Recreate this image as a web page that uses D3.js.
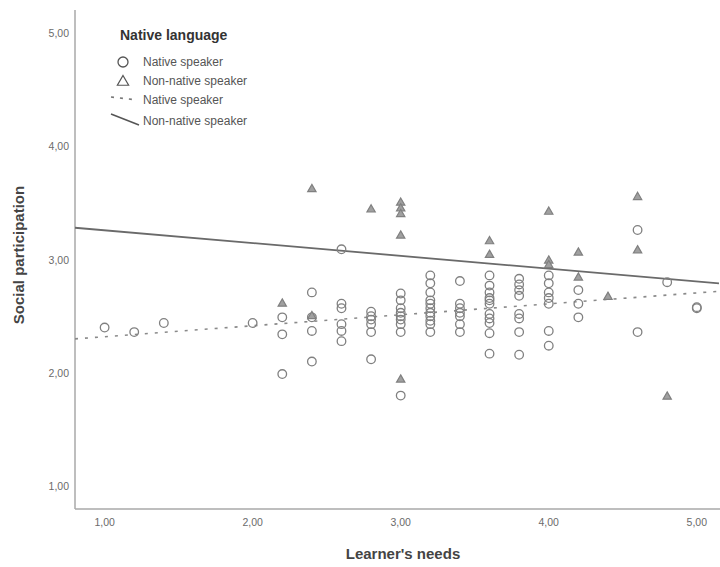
<!DOCTYPE html>
<html><head><meta charset="utf-8">
<script src="https://cdn.jsdelivr.net/npm/d3@7"></script>
<style>body{margin:0;background:#fff}svg{display:block}</style>
</head><body>
<svg id="c" width="720" height="567"></svg>
<script>
// ---- data ----
const xTicks = [1, 2, 3, 4, 5];
const yTicks = [1, 2, 3, 4, 5];
// Native speakers: [learner's needs, social participation]
const nativeX = [1.0,1.2,1.4,2.0,
  2.2,2.2,2.2,
  2.4,2.4,2.4,2.4,
  2.6,2.6,2.6,2.6,2.6,2.6,
  2.8,2.8,2.8,2.8,2.8,2.8,
  3.0,3.0,3.0,3.0,3.0,3.0,3.0,3.0,3.0,
  3.2,3.2,3.2,3.2,3.2,3.2,3.2,3.2,3.2,3.2,3.2,
  3.4,3.4,3.4,3.4,3.4,3.4,3.4,
  3.6,3.6,3.6,3.6,3.6,3.6,3.6,3.6,3.6,3.6,3.6,
  3.8,3.8,3.8,3.8,3.8,3.8,3.8,3.8,
  4.0,4.0,4.0,4.0,4.0,4.0,4.0,
  4.2,4.2,4.2,
  4.6,4.6,
  4.8,
  5.0,5.0];
const nativeY = [2.40,2.36,2.44,2.44,
  2.49,2.34,1.99,
  2.71,2.49,2.37,2.10,
  3.09,2.61,2.57,2.43,2.37,2.28,
  2.54,2.50,2.47,2.43,2.36,2.12,
  2.70,2.64,2.57,2.53,2.50,2.47,2.43,2.36,1.80,
  2.86,2.79,2.71,2.64,2.61,2.57,2.53,2.50,2.46,2.43,2.36,
  2.81,2.61,2.57,2.53,2.50,2.43,2.36,
  2.86,2.77,2.71,2.66,2.61,2.52,2.48,2.44,2.35,2.17,2.64,
  2.83,2.78,2.73,2.68,2.52,2.48,2.36,2.16,
  2.86,2.79,2.71,2.66,2.61,2.37,2.24,
  2.73,2.61,2.49,
  3.26,2.36,
  2.80,
  2.57,2.58];
// Non-native speakers
const nonNativeX = [2.2,2.4,2.4,2.8,3.0,3.0,3.0,3.0,3.0,3.6,3.6,4.0,4.0,4.0,4.2,4.2,4.4,4.6,4.6,4.8];
const nonNativeY = [2.61,3.62,2.50,3.44,3.50,3.45,3.40,3.21,1.94,3.16,3.04,3.42,2.99,2.95,3.06,2.84,2.67,3.55,3.08,1.79];
// Fit lines: value at the left and right edge of the plot
const fitX = [0.8, 5.15];
const fitNativeY = [2.30, 2.72];
const fitNonNativeY = [3.28, 2.79];
const legendTitle = "Native language";
const legendLabels = ["Native speaker", "Non-native speaker", "Native speaker", "Non-native speaker"];

// ---- drawing ----
const svg = d3.select("#c");
const font = "'Liberation Sans', Arial, sans-serif";
const x = d3.scaleLinear().domain([0.8, 5.15]).range([75, 719]);
const y = d3.scaleLinear().domain([0.8, 5.2]).range([509, 10]);

const axisColor = "#a8a8a8";
svg.append("line").attr("x1", 75).attr("x2", 75).attr("y1", 10).attr("y2", 509)
  .attr("stroke", axisColor).attr("stroke-width", 1.5);
svg.append("line").attr("x1", 75).attr("x2", 720).attr("y1", 509).attr("y2", 509)
  .attr("stroke", axisColor).attr("stroke-width", 1.5);

const fmt = d => d3.format(".2f")(d).replace(".", ",");
svg.append("g").selectAll("text").data(yTicks).join("text")
  .attr("x", 69).attr("y", d => y(d) + 4).attr("text-anchor", "end")
  .attr("font-family", font).attr("font-size", 10.5).attr("fill", "#6b6b6b").text(fmt);
svg.append("g").selectAll("text").data(xTicks).join("text")
  .attr("x", d => x(d)).attr("y", 526).attr("text-anchor", "middle")
  .attr("font-family", font).attr("font-size", 10.5).attr("fill", "#6b6b6b").text(fmt);

svg.append("text").attr("x", 403).attr("y", 559).attr("text-anchor", "middle")
  .attr("font-family", font).attr("font-size", 15).attr("fill", "#444").attr("font-weight", "bold")
  .text("Learner's needs");
svg.append("text").attr("transform", "translate(24,255) rotate(-90)").attr("text-anchor", "middle")
  .attr("font-family", font).attr("font-size", 15).attr("fill", "#444").attr("font-weight", "bold")
  .text("Social participation");

const markerColor = "#808080";
const tri = d3.symbol().type(d3.symbolTriangle).size(30);

const line = d3.line().x(d => x(d[0])).y(d => y(d[1]));
svg.append("path").datum(fitX.map((v, i) => [v, fitNativeY[i]])).attr("d", line)
  .attr("fill", "none").attr("stroke", "#8a8a8a").attr("stroke-width", 1.6).attr("stroke-dasharray", "3,7");
svg.append("path").datum(fitX.map((v, i) => [v, fitNonNativeY[i]])).attr("d", line)
  .attr("fill", "none").attr("stroke", "#6a6a6a").attr("stroke-width", 1.8);

svg.append("g").selectAll("circle").data(nativeX.map((v, i) => [v, nativeY[i]])).join("circle")
  .attr("cx", d => x(d[0])).attr("cy", d => y(d[1])).attr("r", 4.3)
  .attr("fill", "none").attr("stroke", markerColor).attr("stroke-width", 1.3);
svg.append("g").selectAll("path").data(nonNativeX.map((v, i) => [v, nonNativeY[i]])).join("path")
  .attr("d", tri).attr("transform", d => `translate(${x(d[0])},${y(d[1])})`)
  .attr("fill", "#a0a0a0").attr("stroke", markerColor).attr("stroke-width", 1.2);

const lg = svg.append("g");
lg.append("text").attr("x", 120).attr("y", 40).attr("font-family", font).attr("font-size", 14)
  .attr("font-weight", "bold").attr("fill", "#333").text(legendTitle);
const ly = [62, 81, 100, 121];
lg.append("circle").attr("cx", 123).attr("cy", ly[0]).attr("r", 5)
  .attr("fill", "none").attr("stroke", "#555").attr("stroke-width", 1.3);
lg.append("path").attr("d", d3.symbol().type(d3.symbolTriangle).size(55))
  .attr("transform", `translate(123,${ly[1] + 1})`)
  .attr("fill", "none").attr("stroke", "#555").attr("stroke-width", 1.2);
lg.append("line").attr("x1", 111).attr("x2", 137).attr("y1", ly[2] - 3).attr("y2", ly[2])
  .attr("stroke", "#777").attr("stroke-width", 1.6).attr("stroke-dasharray", "3,6");
lg.append("line").attr("x1", 111).attr("x2", 139).attr("y1", ly[3] - 7).attr("y2", ly[3] + 4)
  .attr("stroke", "#555").attr("stroke-width", 1.5);
lg.selectAll("text.item").data(legendLabels).join("text").attr("class", "item")
  .attr("x", 143).attr("y", (d, i) => ly[i] + 4).attr("font-family", font).attr("font-size", 12)
  .attr("fill", "#555").text(d => d);
</script>
</body></html>
